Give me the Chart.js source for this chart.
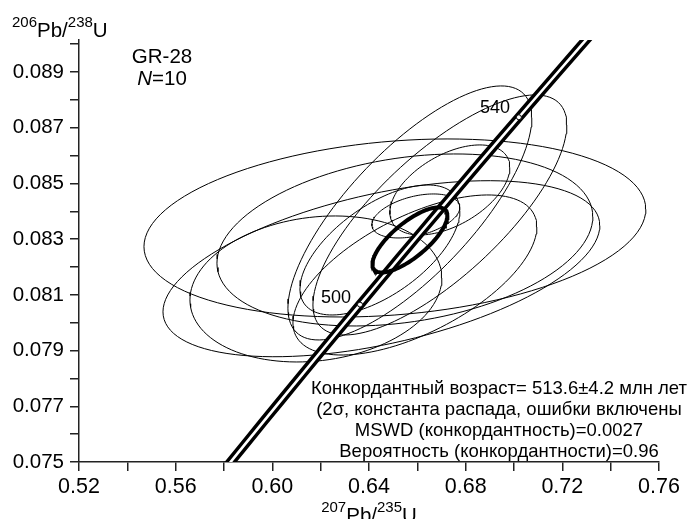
<!DOCTYPE html>
<html><head><meta charset="utf-8">
<script src="https://cdn.jsdelivr.net/npm/chart.js@4.4.1/dist/chart.umd.min.js"></script>
<style>html,body{margin:0;padding:0;background:#fff;}#wrap{width:690px;height:519px;}</style>
</head><body><div id="wrap"><canvas id="c" width="690" height="519"></canvas></div>
<script>
// ---- axis ticks ----
const xTicks = [0.52,0.54,0.56,0.58,0.60,0.62,0.64,0.66,0.68,0.70,0.72,0.74,0.76];
const xTickLabels = ['0.52','','0.56','','0.60','','0.64','','0.68','','0.72','','0.76'];
const yTicks = [0.075,0.076,0.077,0.078,0.079,0.080,0.081,0.082,0.083,0.084,0.085,0.086,0.087,0.088,0.089,0.090];
const yTickLabels = ['0.075','','0.077','','0.079','',' 0.081','','0.083','','0.085','','0.087','','0.089',''];

// ---- data ellipses (2-sigma): centre, half-widths, error correlation ----
const ellCX  = [0.65071, 0.65485, 0.64513, 0.61803, 0.65692, 0.66933, 0.65899, 0.64451, 0.65940, 0.67346];
const ellCY  = [0.083402,0.082971,0.081939,0.081212,0.083941,0.083869,0.081714,0.082612,0.083833,0.084767];
const ellSX  = [0.10383, 0.07777, 0.09038, 0.05212, 0.05047, 0.05253, 0.05047, 0.03309, 0.01820, 0.02482];
const ellSY  = [0.003196,0.003088,0.003160,0.002621,0.004560,0.004309,0.002873,0.002334,0.000790,0.001616];
const ellRho = [0.21, 0.27, 0.49, 0.15, 0.75, 0.75, 0.60, 0.60, 0.40, 0.50];

// ---- concordia age ellipse ----
const concCX = 0.65692, concCY = 0.082971, concSX = 0.01551, concSY = 0.001167, concRho = 0.75;

// ---- concordia curve (ages in Ma) ----
const concAges = [460,470,480,490,500,510,520,530,540,550,560];
const concX = [0.57307,0.58864,0.60437,0.62024,0.63628,0.65248,0.66883,0.68535,0.70202,0.71887,0.73588];
const concY = [0.073965,0.075632,0.077302,0.078975,0.080650,0.082327,0.084008,0.085691,0.087376,0.089064,0.090755];
const markAges = [500, 540];
const markX = [0.63628, 0.70202];
const markY = [0.080650, 0.087376];

const infoLines = ['Конкордантный возраст= 513.6±4.2 млн лет',
                   '(2σ, константа распада, ошибки включены',
                   'MSWD (конкордантность)=0.0027',
                   'Вероятность (конкордантности)=0.96'];

function ellipsePts(cx, cy, sx, sy, rho){
  const pts = [], n = 120, k = Math.sqrt(1 - rho*rho);
  for (let i = 0; i <= n; i++){
    const t = 2*Math.PI*i/n;
    pts.push({x: cx + sx*Math.cos(t), y: cy + sy*(rho*Math.cos(t) + k*Math.sin(t))});
  }
  return pts;
}

const FONT = "'Liberation Sans', Arial, Helvetica, sans-serif";
const datasets = [];
datasets.push({data: markX.map((x,i)=>({x, y: markY[i]})), showLine:false, pointRadius:2.5,
  pointBackgroundColor:'#fff', pointBorderColor:'#000', pointBorderWidth:1, order:1});
datasets.push({data: ellipsePts(concCX,concCY,concSX,concSY,concRho), showLine:true, borderColor:'#000',
  borderWidth:4, pointRadius:0, fill:false, tension:0, order:2});
datasets.push({data: concX.map((x,i)=>({x, y: concY[i]})), showLine:true, borderColor:'#fff', borderWidth:2.6,
  pointRadius:0, fill:false, tension:0.4, order:3});
datasets.push({data: concX.map((x,i)=>({x, y: concY[i]})), showLine:true, borderColor:'#000', borderWidth:9.5,
  pointRadius:0, fill:false, tension:0.4, order:4});
for (let i = 0; i < ellCX.length; i++){
  datasets.push({data: ellipsePts(ellCX[i],ellCY[i],ellSX[i],ellSY[i],ellRho[i]), showLine:true,
    borderColor:'#000', borderWidth:1, pointRadius:0, fill:false, tension:0, order:10});
}

function drawRich(ctx, parts, x, y, align, size, supSize, rise){
  supSize = supSize || Math.round(size*0.65);
  rise = rise || size*0.42;
  let w = 0;
  parts.forEach(p => { ctx.font = (p.it?'italic ':'') + (p.sup?supSize:size) + 'px ' + FONT; p.w = ctx.measureText(p.t).width; w += p.w; });
  let cx = align === 'center' ? x - w/2 : (align === 'right' ? x - w : x);
  ctx.textAlign = 'left'; ctx.textBaseline = 'alphabetic'; ctx.fillStyle = '#000';
  parts.forEach(p => {
    ctx.font = (p.it?'italic ':'') + (p.sup?supSize:size) + 'px ' + FONT;
    ctx.fillText(p.t, cx, p.sup ? y - rise : y);
    cx += p.w;
  });
}

const textPlugin = {
  id: 'texts',
  afterDatasetsDraw(chart){
    const ctx = chart.ctx;
    ctx.save();
    ctx.font = '18px ' + FONT; ctx.fillStyle = '#000'; ctx.textAlign = 'right'; ctx.textBaseline = 'alphabetic';
    ctx.fillText(String(markAges[0]), 351, 303);
    ctx.fillText(String(markAges[1]), 510, 113);
    drawRich(ctx, [{t:'GR-28'}], 162, 63, 'center', 20.5);
    drawRich(ctx, [{t:'N', it:true},{t:'=10'}], 162, 85, 'center', 20.5);
    ctx.font = '18.5px ' + FONT;
    const cxT = 499, base0 = 394, lh = 21;
    infoLines.forEach((s, i) => {
      const w = ctx.measureText(s).width;
      ctx.fillStyle = '#fff';
      ctx.fillRect(cxT - w/2, base0 + i*lh - 14, w, 18);
    });
    ctx.fillStyle = '#000'; ctx.textAlign = 'center';
    infoLines.forEach((s, i) => ctx.fillText(s, cxT, base0 + i*lh));
    drawRich(ctx, [{t:'206',sup:true},{t:'Pb/'},{t:'238',sup:true},{t:'U'}], 12, 37, 'left', 20.5, 15, 10);
    drawRich(ctx, [{t:'207',sup:true},{t:'Pb/'},{t:'235',sup:true},{t:'U'}], 369, 522, 'center', 20.5, 15, 10);
    ctx.restore();
  }
};

new Chart(document.getElementById('c'), {
  type: 'scatter',
  data: {datasets},
  options: {
    responsive:false, animation:false, devicePixelRatio:1,
    layout:{padding:{left:0, top:40, right:31, bottom:0}},
    plugins:{legend:{display:false}, tooltip:{enabled:false}},
    scales:{
      x:{type:'linear', min:0.52, max:0.76,
        afterBuildTicks: s => { s.ticks = xTicks.map(v => ({value:v})); },
        afterFit: s => { s.height = 57; },
        grid:{drawOnChartArea:false, drawTicks:true, tickLength:9, color:'#222', lineWidth:1.5},
        border:{display:true, color:'#222', width:1.5},
        ticks:{autoSkip:false, maxRotation:0, padding:3, color:'#000', font:{family:FONT, size:21.5},
          callback:(v, i) => xTickLabels[i]}},
      y:{type:'linear', min:0.075, max:0.09015,
        afterBuildTicks: s => { s.ticks = yTicks.map(v => ({value:v})); },
        afterFit: s => { s.width = 79; },
        grid:{drawOnChartArea:false, drawTicks:true, tickLength:9, color:'#222', lineWidth:1.5},
        border:{display:true, color:'#222', width:1.5},
        ticks:{autoSkip:false, padding:6, color:'#000', font:{family:FONT, size:20.5},
          callback:(v, i) => yTickLabels[i]}}
    }
  },
  plugins:[textPlugin]
});
</script></body></html>
